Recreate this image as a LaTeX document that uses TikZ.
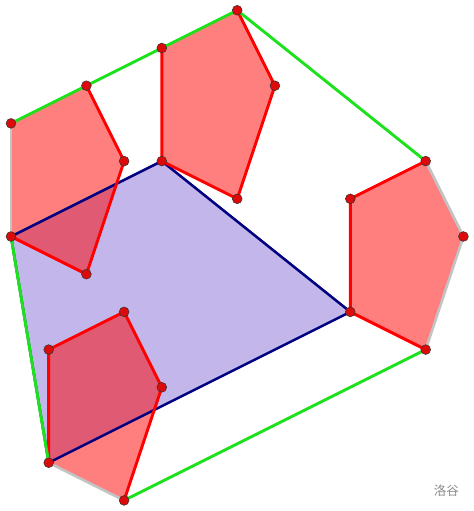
\documentclass[tikz,border=0pt]{standalone}
\usepackage{fontspec}
\newfontfamily\cjk{Noto Sans CJK SC}
\definecolor{lav}{RGB}{194,182,234}
\definecolor{navy}{RGB}{0,0,128}
\definecolor{hullgreen}{RGB}{30,225,30}
\definecolor{hullgray}{RGB}{195,195,195}
\definecolor{dotred}{RGB}{220,10,10}
\tikzset{
  pentfill/.style={fill=red, fill opacity=0.5},
  redside/.style={draw=red, line width=2.2pt, line join=round, line cap=round},
  blueside/.style={draw=navy, line width=1.9pt, line join=round},
  greenside/.style={draw=hullgreen, line width=2.2pt, line cap=round},
  grayside/.style={draw=hullgray, line width=2pt, line cap=round},
  vdot/.style={circle, fill=dotred, draw=black!80, line width=0.4pt, inner sep=0pt, minimum size=0.26cm},
}
\begin{document}
\begin{tikzpicture}[x=1cm,y=-1cm]
\useasboundingbox (-0.2918,-0.273) rectangle (12.281,13.281);
% top pentagon
\coordinate (T1) at (4,1); \coordinate (T2) at (6,0); \coordinate (T3) at (7,2);
\coordinate (T4) at (6,5); \coordinate (T5) at (4,4);
% left pentagon
\coordinate (L1) at (0,3); \coordinate (L2) at (2,2); \coordinate (L3) at (3,4);
\coordinate (L4) at (2,7); \coordinate (L5) at (0,6);
% right pentagon
\coordinate (R1) at (9,5); \coordinate (R2) at (11,4); \coordinate (R3) at (12,6);
\coordinate (R4) at (11,9); \coordinate (R5) at (9,8);
% bottom pentagon
\coordinate (B1) at (1,9); \coordinate (B2) at (3,8); \coordinate (B3) at (4,10);
\coordinate (B4) at (3,13); \coordinate (B5) at (1,12);

% blue quadrilateral fill
\fill[lav] (T5) -- (R5) -- (B5) -- (L5) -- cycle;
% pentagon fills
\fill[pentfill] (T1) -- (T2) -- (T3) -- (T4) -- (T5) -- cycle;
\fill[pentfill] (L1) -- (L2) -- (L3) -- (L4) -- (L5) -- cycle;
\fill[pentfill] (R1) -- (R2) -- (R3) -- (R4) -- (R5) -- cycle;
\fill[pentfill] (B1) -- (B2) -- (B3) -- (B4) -- (B5) -- cycle;
% blue edges
\draw[blueside] (T5) -- (R5) -- (B5) -- (L5) -- cycle;
% red edges
\draw[redside] (T2) -- (T3) -- (T4) -- (T5) -- (T1);
\draw[redside] (L2) -- (L3) -- (L4) -- (L5);
\draw[redside] (R2) -- (R1) -- (R5) -- (R4);
\draw[redside] (B5) -- (B1) -- (B2) -- (B3) -- (B4);
% hull edges
\draw[grayside] (L1) -- (L5);
\draw[grayside] (R2) -- (R3) -- (R4);
\draw[grayside] (B4) -- (B5);
\draw[greenside] (L1) -- (L2) -- (T1) -- (T2) -- (R2);
\draw[greenside] (R4) -- (B4);
\draw[greenside] (B5) -- (L5);
% vertices
\foreach \p in {T1,T2,T3,T4,T5,L1,L2,L3,L4,L5,R1,R2,R3,R4,R5,B1,B2,B3,B4,B5}
  \node[vdot] (d\p) at (\p) {};
\node[text=black!45, font=\cjk\fontsize{9.5pt}{11pt}\selectfont] (wm) at (11.55,12.75) {洛谷};
\end{tikzpicture}
\end{document}
